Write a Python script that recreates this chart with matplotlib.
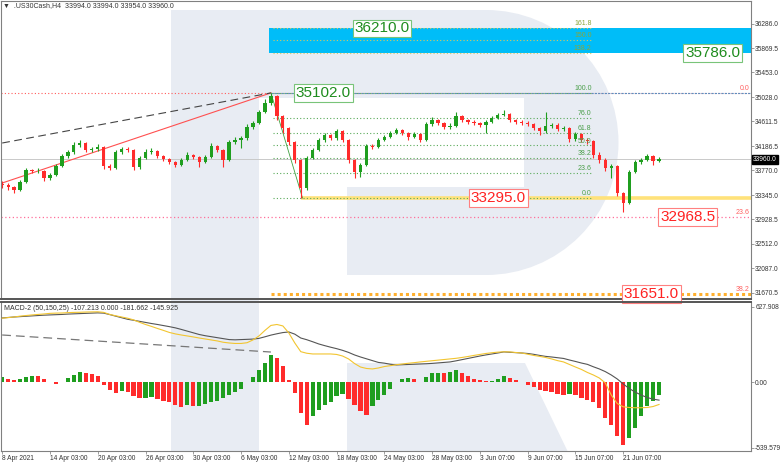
import matplotlib.pyplot as plt
import matplotlib.transforms as mtransforms
from matplotlib.patches import Rectangle, Polygon, Wedge
import numpy as np

plt.rcParams['font.family'] = ['Liberation Sans', 'DejaVu Sans']

# ---- price data (H4, one bar here = 3 bars of the original) ----
first_open = 33540
closes = [33520, 33485, 33434, 33571, 33777, 33760, 33760, 33640, 33692, 33846,
          34018, 34087, 34207, 34241, 34121, 34138, 34173, 33846, 33812, 34087,
          34138, 34121, 33829, 33984, 34087, 34104, 34018, 33966, 33915, 33863,
          33949, 34035, 34001, 33915, 34001, 34190, 34121, 33949, 34259, 34293,
          34327, 34516, 34585, 34774, 34929, 35049, 34705, 34499, 34259, 33949,
          33468, 33984, 34121, 34293, 34379, 34327, 34448, 34293, 33949, 33743,
          33863, 34190, 34173, 34293, 34345, 34413, 34465, 34413, 34345, 34396,
          34293, 34568, 34637, 34585, 34516, 34533, 34705, 34637, 34602, 34585,
          34551, 34602, 34671, 34722, 34740, 34637, 34602, 34585, 34568, 34499,
          34448, 34533, 34551, 34482, 34499, 34310, 34396, 34293, 34276, 34035,
          33949, 33812, 33846, 33382, 33211, 33743, 33915, 33949, 34018, 33932,
          33960]
highs = [33580, 33550, 33500, 33600, 33820, 33800, 33810, 33780, 33730, 33880,
         34050, 34120, 34250, 34300, 34260, 34180, 34220, 34190, 33880, 34120,
         34180, 34170, 34140, 34020, 34130, 34150, 34120, 34040, 33990, 33940,
         33980, 34080, 34060, 34020, 34030, 34240, 34210, 34140, 34290, 34340,
         34370, 34560, 34620, 34810, 34990, 35102, 35070, 34730, 34520, 34280,
         33970, 34010, 34160, 34320, 34420, 34400, 34480, 34470, 34310, 33970,
         33900, 34220, 34230, 34330, 34380, 34450, 34500, 34480, 34430, 34430,
         34420, 34600, 34680, 34660, 34600, 34580, 34780, 34720, 34660, 34630,
         34610, 34630, 34700, 34760, 34800, 34760, 34660, 34640, 34620, 34590,
         34520, 34770, 34590, 34580, 34540, 34520, 34430, 34420, 34320, 34300,
         34080, 33980, 33880, 33870, 33400, 33770, 33950, 33990, 34060, 34040,
         33994]
lows = [33470, 33430, 33380, 33420, 33560, 33720, 33720, 33590, 33610, 33670,
        33830, 33990, 34060, 34180, 34090, 34090, 34110, 33790, 33770, 33800,
        34060, 34080, 33780, 33800, 33960, 34060, 33990, 33930, 33880, 33830,
        33840, 33930, 33960, 33830, 33890, 33980, 34080, 33830, 33940, 34230,
        34150, 34300, 34490, 34560, 34750, 34900, 34640, 34420, 34200, 33900,
        33295, 33440, 33960, 34100, 34260, 34290, 34300, 34250, 33900, 33640,
        33650, 33840, 34130, 34150, 34270, 34320, 34390, 34380, 34300, 34320,
        34250, 34270, 34540, 34550, 34480, 34490, 34510, 34600, 34570, 34550,
        34520, 34420, 34580, 34650, 34700, 34600, 34570, 34550, 34530, 34460,
        34380, 34420, 34500, 34450, 34450, 34260, 34280, 34250, 34230, 33990,
        33900, 33760, 33640, 33330, 33060, 33190, 33720, 33880, 33930, 33870,
        33920]

# ---- MACD-2 (50,150,25) ----
hist = [45, 30, 22, 30, 45, 55, 50, 25, 5, -10,
        5, 35, 65, 84, 80, 70, 55, -20, -60, -90,
        -70, -75, -110, -128, -125, -122, -135, -150, -165, -185,
        -200, -190, -195, -192, -175, -160, -150, -130, -105, -80,
        -50, 0, 45, 100, 165, 225, 205, 140, 20, -90,
        -254, -350, -280, -225, -185, -160, -110, -92, -140, -190,
        -240, -268, -195, -145, -100, -55, 0, 25, 33, 30,
        5, 45, 80, 82, 80, 90, 100, 75, 50, 30,
        18, 10, 12, 30, 50, 40, 20, 0, -18, -35,
        -60, -72, -80, -95, -100, -98, -105, -125, -145, -165,
        -210, -290, -350, -440, -520, -460, -375, -275, -195, -150,
        -107]
macd_line = [534, 538, 542, 545, 548, 551, 554, 557, 559, 561,
             563, 566, 568, 570, 572, 574, 576, 574, 562, 549,
             536, 523, 515, 506, 497, 488, 480, 471, 462, 452,
             439, 425, 411, 397, 387, 379, 371, 363, 355, 353,
             355, 357, 359, 365, 378, 392, 403, 413, 418, 400,
             368, 354, 337, 319, 305, 292, 280, 266, 249, 228,
             211, 196, 181, 166, 160, 151, 145, 147, 149, 151,
             153, 155, 158, 162, 166, 170, 179, 189, 199, 209,
             219, 228, 236, 244, 253, 250, 247, 244, 240, 233,
             224, 216, 211, 205, 199, 186, 174, 161, 150, 130,
             112, 90, 62, 29, -12, -50, -79, -104, -124, -138,
             -146]
signal_line = [532, 537, 542, 549, 554, 559, 563, 567, 572, 574,
               575, 578, 580, 581, 583, 584, 585, 580, 563, 552,
               542, 532, 518, 498, 480, 464, 447, 431, 414, 402,
               393, 385, 377, 368, 360, 352, 344, 333, 327, 323,
               323, 329, 352, 385, 431, 472, 480, 468, 410, 327,
               255, 242, 236, 236, 236, 236, 232, 219, 195, 157,
               128, 116, 112, 120, 132, 139, 147, 153, 159, 164,
               170, 175, 180, 185, 190, 195, 200, 207, 215, 224,
               232, 240, 246, 251, 254, 253, 248, 244, 234, 224,
               216, 207, 195, 181, 170, 149, 128, 108, 83, 62,
               37, -4, -104, -174, -201, -207, -209, -209, -207, -199,
               -182]
macd_trend = [393, 252]

tick_labels = ['8 Apr 2021', '14 Apr 03:00', '20 Apr 03:00', '26 Apr 03:00',
               '30 Apr 03:00', '6 May 03:00', '12 May 03:00', '18 May 03:00',
               '24 May 03:00', '28 May 03:00', '3 Jun 07:00', '9 Jun 07:00',
               '15 Jun 07:00', '21 Jun 07:00']
tick_step = 8
price_ticks = [36286.0, 35869.5, 35453.0, 35028.0, 34611.5, 34186.5, 33770.0,
               33345.0, 32928.5, 32512.0, 32087.0, 31670.5]
macd_ticks = [627.908, 0.0, -539.579]
macd_tick_labels = ['627.908', '0.00', '-539.579']

# ---- analysis levels ----
swing_high, swing_low = 35102.0, 33295.0
high_bar, low_bar, fib_end = 45, 50.3, 99
fib_levels = [0.0, 23.6, 38.2, 50.0, 61.8, 76.0, 100.0]
ext_levels = [138.2, 150.0, 161.8]
trend_red = [33554, 35102]
trend_dash = [34241, 35102]
last_price = 33960.0
upper_targets = [(36210.0, 63.6), (35786.0, 119.0), (35102.0, 53.8)]
lower_targets = [(33295.0, 83.1), (32968.5, 114.8), (31651.0, 108.7)]
big_fib = [(35102.0, '0.0'), (32968.5, '23.6'), (31651.0, '38.2')]

W, H = 782, 463
fig = plt.figure(figsize=(W / 100, H / 100), dpi=100)

# watermark logo behind the panels
bg = fig.add_axes([0, 0, 1, 1], zorder=0)
bg.set_xlim(0, W)
bg.set_ylim(H, 0)
bg.axis('off')
wm = '#e8ecf3'
bg.add_patch(Rectangle((171, 10), 88, 442, color=wm, lw=0))
bg.add_patch(Rectangle((259, 10), 227, 265, color=wm, lw=0))
bg.add_patch(Wedge((486, 142.5), 132.5, -90, 90, color=wm, lw=0))
bg.add_patch(Rectangle((259, 98), 265, 89, color='white', lw=0))
bg.add_patch(Rectangle((259, 187), 88, 88, color='white', lw=0))
bg.add_patch(Polygon([(347, 363), (525, 363), (568, 452), (347, 452)], color=wm, lw=0))


def px_rect(l, t, r, b):
    return [l / W, 1 - b / H, (r - l) / W, (b - t) / H]


ax = fig.add_axes(px_rect(1, 1, 751, 299), zorder=1, facecolor='none')
ax2 = fig.add_axes(px_rect(1, 302, 751, 451), zorder=1, facecolor='none')

n = len(closes)
idx = np.arange(n)
c = np.array(closes, dtype=float)
o = np.array([first_open] + closes[:-1], dtype=float)
green, red = '#1f9e1f', '#ff2b2b'
cols = [green if cc >= oo else red for oo, cc in zip(o, c)]

# horizontal levels
blend = mtransforms.blended_transform_factory(ax.transAxes, ax.transData)
ax.axhline(last_price, color='#c9c9c9', lw=0.7, zorder=1)
ax.axhline(35102.0, color='#ff5c5c', lw=0.8, ls=(0, (1, 2)), zorder=1)
ax.axhline(32968.5, color='#ff6f9a', lw=0.9, ls=(0, (1, 2)), zorder=1)
ax.plot([high_bar, 130], [35102.0] * 2, color='#5f8fc0', lw=0.8, ls=(0, (2, 1)), zorder=1)
ax.plot([high_bar, 130], [31651.0] * 2, color='#ffb02e', lw=2.2, ls=(0, (1, 1)), zorder=1)
ax.plot([low_bar, 130], [swing_low] * 2, color='#ffe27a', lw=2.6, zorder=1)

# target zone
ax.add_patch(Rectangle((high_bar - 0.3, 35786.0), 90, 36210.0 - 35786.0,
                       color='#00bdf8', lw=0, zorder=0.8))

# fibo extension
rng = swing_high - swing_low
for lv in fib_levels + ext_levels:
    y = swing_low + lv / 100 * rng
    inside = lv > 100
    lc = '#d8c860' if inside else '#5aaa5a'
    ax.plot([high_bar + 0.4, fib_end], [y, y], color=lc, lw=0.8, ls=(0, (1, 2)), zorder=1.2)
    ax.text(fib_end - 0.3, y + 15, f'{lv:.1f}', color='#8aa63a' if inside else '#4a9e4a',
            fontsize=5, ha='right', va='bottom', zorder=3)

for lv, s in big_fib:
    ax.text(0.998, lv + 15, s, transform=blend, color='#ff6060', fontsize=5,
            ha='right', va='bottom', zorder=3)

# trend lines
ax.plot([0, high_bar], trend_red, color='#ff5050', lw=0.8, zorder=1.5)
ax.plot([0, high_bar], trend_dash, color='#454545', lw=0.8, ls=(0, (7, 4)), zorder=1.5)
ax.plot([high_bar, low_bar], [swing_high, swing_low], color='#40a040', lw=0.6, zorder=1.5)

# candles
ax.vlines(idx, lows, highs, colors=cols, lw=0.8, zorder=2)
body = np.maximum(np.abs(c - o), 8)
ax.bar(idx, body, bottom=np.minimum(o, c), width=0.55, color=cols, lw=0, zorder=2.2)

# price labels
for val, xb in upper_targets:
    ax.text(xb, val, f'{val:.1f}', fontsize=11, color='#1e8c1e', ha='center', va='center',
            zorder=4, bbox=dict(boxstyle='square,pad=0.12', facecolor='white',
                                edgecolor='#79c479', lw=0.8))
for val, xb in lower_targets:
    ax.text(xb, val, f'{val:.1f}', fontsize=11, color='#ff2222', ha='center', va='center',
            zorder=4, bbox=dict(boxstyle='square,pad=0.12', facecolor='white',
                                edgecolor='#ff8080', lw=0.8))

ax.set_xlim(-0.2, 125.4)
ax.set_ylim(31561, 36681)
ax.set_xticks([])
ax.yaxis.tick_right()
ax.set_yticks(price_ticks)
ax.set_yticklabels([f'{v:.1f}' for v in price_ticks])
ax.tick_params(axis='y', labelsize=4.8, length=2, width=0.5, color='#777777',
               labelcolor='#333333', pad=1)
ax.text(1.003, last_price, f'{last_price:.1f}', transform=blend, fontsize=4.8,
        color='white', ha='left', va='center', zorder=5,
        bbox=dict(boxstyle='square,pad=0.15', facecolor='black', edgecolor='black'))

# MACD panel
hcols = [green if i == 0 or hist[i] >= hist[i - 1] else red for i in range(n)]
ax2.bar(idx, hist, width=0.7, color=hcols, lw=0, zorder=2)
ax2.plot(idx, macd_line, color='#555555', lw=0.8, zorder=3)
ax2.plot(idx, signal_line, color='#f2c530', lw=0.8, zorder=3)
ax2.plot([0, high_bar], macd_trend, color='#777777', lw=0.9, ls=(0, (7, 4)), zorder=3)
ax2.set_xlim(-0.2, 125.4)
ax2.set_ylim(-567, 666)
ax2.yaxis.tick_right()
ax2.set_yticks(macd_ticks)
ax2.set_yticklabels(macd_tick_labels)
ax2.set_xticks(np.arange(len(tick_labels)) * tick_step)
ax2.set_xticklabels(tick_labels)
for lab in ax2.get_xticklabels():
    lab.set_ha('left')
ax2.tick_params(labelsize=4.8, length=2, width=0.5, color='#777777',
                labelcolor='#333333', pad=1)

for a in (ax, ax2):
    for sp in a.spines.values():
        sp.set_color('#808080')
        sp.set_linewidth(0.8)
ax.spines['bottom'].set_color('#555555')
ax.spines['bottom'].set_linewidth(1.4)
ax2.spines['top'].set_color('#555555')
ax2.spines['top'].set_linewidth(1.4)

fig.text(3 / W, 1 - 6 / H, '\u25bc  .US30Cash,H4  33994.0 33994.0 33954.0 33960.0',
         fontsize=5, color='#333333', va='center', family=['Liberation Sans', 'DejaVu Sans'])
fig.text(4 / W, 1 - 308 / H, 'MACD-2 (50,150,25) -107.213 0.000 -181.662 -145.925',
         fontsize=5, color='#333333', va='center')

fig.savefig('out.png', dpi=100, facecolor='white')
